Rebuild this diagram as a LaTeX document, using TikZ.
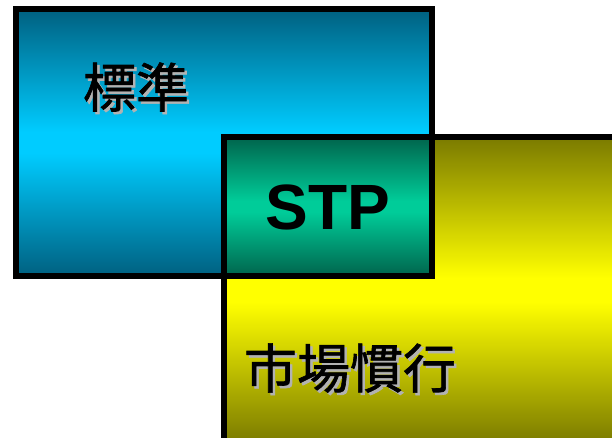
\documentclass[tikz,border=0pt]{standalone}
\usepackage{fontspec}
\setmainfont{Liberation Sans}
\newfontfamily\cjk[FakeBold=1.2]{Noto Sans CJK JP}
\definecolor{bluedark}{RGB}{0,96,128}
\definecolor{bluemid}{RGB}{0,204,255}
\definecolor{tealdark}{RGB}{0,100,76}
\definecolor{tealmid}{RGB}{0,204,153}
\definecolor{yeldark}{RGB}{122,122,0}
\definecolor{yelmid}{RGB}{255,255,0}
\definecolor{shadowgray}{RGB}{178,178,178}
\pgfdeclareverticalshading{blueshade}{100bp}{color(0bp)=(bluedark); color(25bp)=(bluedark); color(48bp)=(bluemid); color(52bp)=(bluemid); color(75bp)=(bluedark); color(100bp)=(bluedark)}
\pgfdeclareverticalshading{tealshade}{100bp}{color(0bp)=(tealdark); color(25bp)=(tealdark); color(48bp)=(tealmid); color(52bp)=(tealmid); color(75bp)=(tealdark); color(100bp)=(tealdark)}
\pgfdeclareverticalshading{yelshade}{100bp}{color(0bp)=(yeldark); color(25bp)=(yeldark); color(48bp)=(yelmid); color(52bp)=(yelmid); color(75bp)=(yeldark); color(100bp)=(yeldark)}
\begin{document}
\begin{tikzpicture}[x=1pt,y=-1pt,
  frame/.style={draw=black,line width=6pt},
  cjklabel/.style={font=\cjk\fontsize{53}{60}\selectfont,inner sep=0pt},
  stplabel/.style={font=\bfseries\fontsize{64}{70}\selectfont,inner sep=0pt},
  shadowtext/.style={text=shadowgray},
  maintext/.style={text=black}]
\useasboundingbox (0,0) rectangle (612,438);
\clip (0,0) rectangle (612,438);
% fills
\shade[shading=blueshade] (16,9) rectangle (432,276);
\shade[shading=yelshade] (224,137) rectangle (630,443);
\shade[shading=tealshade] (224,137) rectangle (432,276);
% frames
\draw[frame] (224,443) -- (224,137) -- (630,137);
\draw[frame] (16,9) rectangle (432,276);
\coordinate (cBlue) at (136,87);
\coordinate (cTeal) at (328,207);
\coordinate (cYel) at (350,368);
% texts with shadow
\node[cjklabel,shadowtext] (tBlueS) at ([shift={(2.5,2.5)}]cBlue) {標準};
\node[cjklabel,maintext] (tBlue) at (cBlue) {標準};
\node[stplabel,maintext] (tTeal) at (cTeal) {STP};
\node[cjklabel,shadowtext] (tYelS) at ([shift={(2.5,2.5)}]cYel) {市場慣行};
\node[cjklabel,maintext] (tYel) at (cYel) {市場慣行};
\end{tikzpicture}
\end{document}
